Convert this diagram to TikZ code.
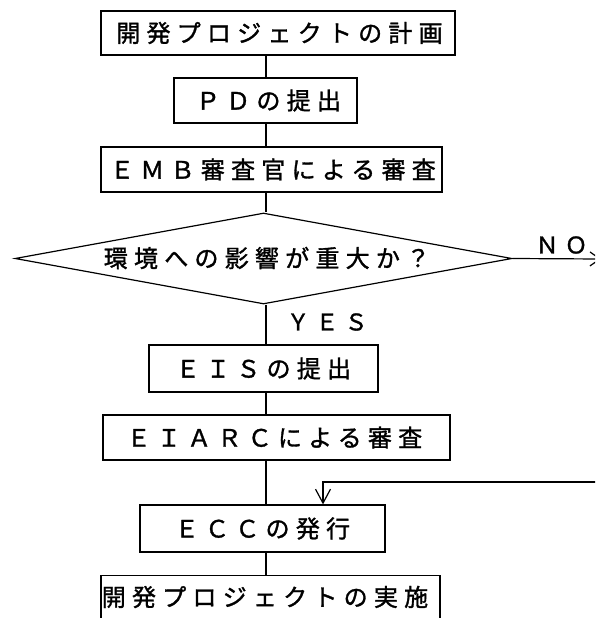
\documentclass[tikz,border=0pt]{standalone}
\usepackage{fontspec}
\newfontfamily\jp[LetterSpace=26,FakeBold=1.3]{Noto Sans CJK JP}
\usetikzlibrary{shapes.geometric,arrows.meta}
\begin{document}
\begin{tikzpicture}[x=1pt,y=-1pt,line width=1.2pt,
  stepbox/.style={draw,inner sep=0pt,font=\jp\fontsize{24}{24}\selectfont},
  lbl/.style={inner sep=0pt,font=\jp\fontsize{23}{23}\selectfont}]
\useasboundingbox (0,0) rectangle (595,618);
\clip (0,0) rectangle (595,618);
\coordinate (spine) at (266,0);
\node[stepbox,minimum width=354pt,minimum height=44pt] (b1) at (278,33) {\hspace{3pt}開発プロジェクトの計画};
\node[stepbox,minimum width=183pt,minimum height=45pt] (b2) at (265.5,100.5) {\hspace{6pt}ＰＤの提出};
\node[stepbox,minimum width=341pt,minimum height=45pt] (b3) at (271.5,169.5) {\hspace{3pt}ＥＭＢ審査官による審査};
\node[diamond,draw,inner sep=0pt,minimum width=497pt,minimum height=91pt] (dia) at (263.5,258.5) {};
\node[inner sep=0pt,font=\jp\fontsize{24}{24}\selectfont] (diatext) at (267,258) {環境への影響が重大か？};
\node[stepbox,minimum width=229pt,minimum height=47pt] (b4) at (263.5,368.5) {ＥＩＳの提出};
\node[stepbox,minimum width=347pt,minimum height=45pt] (b5) at (276.5,437.5) {\hspace{-4pt}ＥＩＡＲＣによる審査};
\node[stepbox,minimum width=245pt,minimum height=47pt] (b6) at (262.5,528.5) {ＥＣＣの発行};
\node[stepbox,minimum width=339pt,minimum height=50pt,anchor=north] (b7) at (270.5,575) {};
\node[inner sep=0pt,font=\jp\fontsize{24}{24}\selectfont] (b7text) at (265,597) {開発プロジェクトの実施};
\node[lbl,anchor=west] (yes) at (286,322) {ＹＥＳ};
\node[lbl,anchor=west] (no) at (535,245) {ＮＯ};
\draw (b1.south -| spine) -- (b2.north -| spine);
\draw (b2.south -| spine) -- (b3.north -| spine);
\draw (b3.south -| spine) -- (dia.north -| spine);
\draw (dia.south -| spine) -- (b4.north -| spine);
\draw (b4.south -| spine) -- (b5.north -| spine);
\draw (b5.south -| spine) -- (b6.north -| spine);
\draw (b6.south -| spine) -- (b7.north -| spine);
\coordinate (noend) at (601,259);
\draw[-{Straight Barb[length=10pt,width=14pt]}] (dia.east) -- (noend);
\coordinate (loopR) at (600,482);
\coordinate (lp) at (323,482);
\draw[-{Straight Barb[length=14pt,width=15pt]}] (loopR) -- (lp) -- (lp |- b6.north);
\end{tikzpicture}
\end{document}
